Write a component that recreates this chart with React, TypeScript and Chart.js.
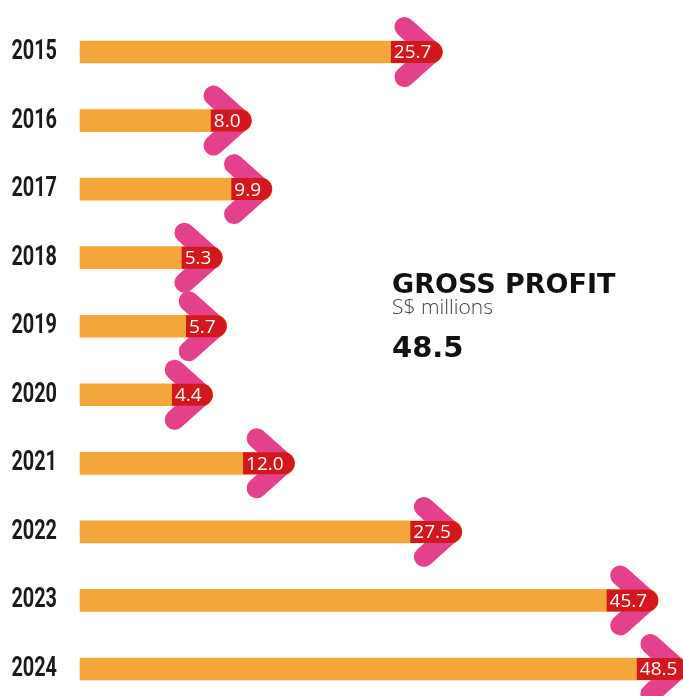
import React, { useEffect, useRef } from "react";
import { Chart, registerables } from "chart.js";

Chart.register(...registerables);

const years = ["2015", "2016", "2017", "2018", "2019", "2020", "2021", "2022", "2023", "2024"];
const profits = [25.7, 8.0, 9.9, 5.3, 5.7, 4.4, 12.0, 27.5, 45.7, 48.5];
const profitLabels = ["25.7", "8.0", "9.9", "5.3", "5.7", "4.4", "12.0", "27.5", "45.7", "48.5"];
const axisMin = -7.9;
const axisMax = 48;
const titleText = "GROSS PROFIT";
const unitText = "S$ millions";
const latestText = "48.5";

const ORANGE = "#F4A63A";
const PINK = "#E3418C";
const RED = "#D3181D";

const yearLabelPlugin = {
  id: "yearLabels",
  afterDraw(chart: any) {
    const ctx = chart.ctx;
    const yScale = chart.scales.y;
    const labels = chart.data.labels as string[];
    ctx.save();
    ctx.font = "700 28px Roboto, 'Liberation Sans', sans-serif";
    ctx.fillStyle = "#1a1a1a";
    ctx.textAlign = "right";
    ctx.textBaseline = "middle";
    const sx = 0.71;
    labels.forEach((lab, i) => {
      const y = yScale.getPixelForValue(i);
      ctx.save();
      ctx.translate(57, y);
      ctx.scale(sx, 1);
      ctx.fillText(lab, 0, 0);
      ctx.restore();
    });
    ctx.restore();
  },
};

const arrowPlugin = {
  id: "arrowHeads",
  afterDatasetsDraw(chart: any) {
    const ctx = chart.ctx;
    const meta = chart.getDatasetMeta(0);
    const xScale = chart.scales.x;
    ctx.save();
    meta.data.forEach((bar: any, i: number) => {
      const X = xScale.getPixelForValue(profits[i]);
      const y = bar.y;
      // chevron
      ctx.beginPath();
      ctx.moveTo(X - 38, y - 25);
      ctx.lineTo(X - 10, y);
      ctx.lineTo(X - 38, y + 25);
      ctx.lineWidth = 20;
      ctx.lineCap = "round";
      ctx.lineJoin = "round";
      ctx.strokeStyle = PINK;
      ctx.stroke();
      // pill
      ctx.font = "400 19px 'Open Sans', sans-serif";
      const label = profitLabels[i];
      const tw = ctx.measureText(label).width;
      const h = 22;
      const r = 11;
      const left = X - 11 - tw - 3;
      ctx.beginPath();
      ctx.moveTo(left, y - h / 2);
      ctx.lineTo(X - r, y - h / 2);
      ctx.arc(X - r, y, r, -Math.PI / 2, Math.PI / 2);
      ctx.lineTo(left, y + h / 2);
      ctx.closePath();
      ctx.fillStyle = RED;
      ctx.fill();
      ctx.fillStyle = "#FFFFFF";
      ctx.textAlign = "right";
      ctx.textBaseline = "middle";
      ctx.fillText(label, X - 11, y + 1);
    });
    ctx.restore();
  },
};

export default function App() {
  const canvasRef = useRef<HTMLCanvasElement | null>(null);

  useEffect(() => {
    const canvas = canvasRef.current;
    if (!canvas) return;
    const chart = new Chart(canvas, {
      type: "bar",
      data: {
        labels: years,
        datasets: [
          {
            data: profits,
            base: axisMin,
            backgroundColor: ORANGE,
            borderWidth: 0,
            borderRadius: 11,
            borderSkipped: "start",
            barThickness: 22,
            clip: false as any,
          } as any,
        ],
      },
      options: {
        indexAxis: "y",
        responsive: false,
        animation: false,
        devicePixelRatio: 1,
        layout: { padding: { top: 52, bottom: 27, left: 0, right: 0 } },
        plugins: {
          legend: { display: false },
          tooltip: { enabled: false },
          title: { display: false },
        },
        scales: {
          x: {
            display: false,
            min: axisMin,
            max: axisMax,
          },
          y: {
            offset: false,
            grid: { display: false, drawTicks: false },
            border: { display: false },
            ticks: { display: false },
            afterFit: (scale: any) => {
              scale.width = 80;
            },
          },
        },
      },
      plugins: [arrowPlugin, yearLabelPlugin],
    });
    return () => chart.destroy();
  }, []);

  return (
    <div
      style={{
        position: "fixed",
        left: 0,
        top: 0,
        width: 683,
        height: 696,
        overflow: "hidden",
        background: "#ffffff",
      }}
    >
      <canvas ref={canvasRef} width={683} height={696} style={{ display: "block" }} />
      <div
        style={{
          position: "absolute",
          left: 392,
          top: 269.5,
          fontFamily: "'DejaVu Sans', sans-serif",
          fontWeight: 700,
          fontSize: 27,
          lineHeight: 1,
          color: "#111",
          whiteSpace: "nowrap",
        }}
      >
        {titleText}
      </div>
      <div
        style={{
          position: "absolute",
          left: 392,
          top: 296,
          fontFamily: "'Open Sans', sans-serif",
          fontWeight: 300,
          fontSize: 21,
          lineHeight: 1,
          color: "#444",
          whiteSpace: "nowrap",
        }}
      >
        {unitText}
      </div>
      <div
        style={{
          position: "absolute",
          left: 392,
          top: 332.6,
          fontFamily: "'DejaVu Sans', sans-serif",
          fontWeight: 700,
          fontSize: 29,
          lineHeight: 1,
          color: "#111",
          whiteSpace: "nowrap",
        }}
      >
        {latestText}
      </div>
    </div>
  );
}
